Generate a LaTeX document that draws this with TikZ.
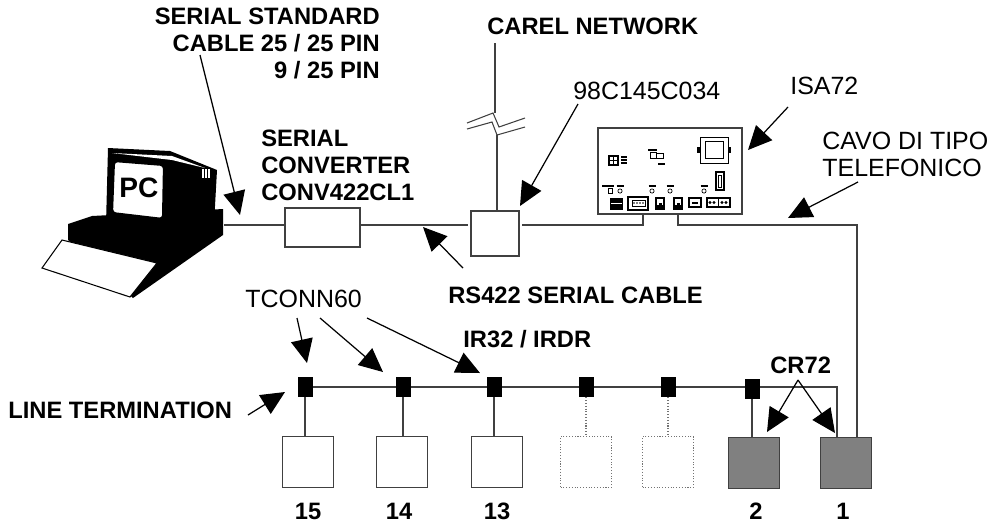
\documentclass[tikz,border=0pt]{standalone}
\usepackage{fontspec}
\setmainfont{Liberation Sans}
\usetikzlibrary{arrows.meta}
\tikzstyle{devbox}=[rectangle,draw=black!75,fill=white,line width=0.6pt,minimum width=1.02cm,minimum height=1.02cm,inner sep=0pt]
\tikzstyle{sparebox}=[devbox,draw=black!55,densely dotted]
\tikzstyle{crbox}=[devbox,fill=black!50]
\tikzstyle{tconn}=[rectangle,fill=black,minimum width=0.3cm,minimum height=0.4cm,inner sep=0pt]
\tikzstyle{wire}=[draw=black!75,line width=0.6pt]
\tikzstyle{spareline}=[draw=black!55,densely dotted,line width=0.6pt]
\tikzstyle{pointer}=[draw,line width=0.7pt,->]
\tikzstyle{txt}=[inner sep=0pt,font=\fontsize{14.2}{15.3}\selectfont]
\tikzstyle{btxt}=[inner sep=0pt,font=\bfseries\fontsize{13.5}{15.3}\selectfont]

\begin{document}
\begin{tikzpicture}[x=0.02cm,y=-0.02cm,>={Triangle[length=13.5pt,width=12.5pt]}]
\fill[white] (0,0) rectangle (996,529);
\useasboundingbox (0,0) rectangle (996,529);

% PC
\fill (68,224) -- (92,216) -- (223,209) -- (223,235) -- (133,298) -- (68,240) -- cycle;
\fill (108,148) -- (170,151) -- (217,170) -- (214,224) -- (172,235) -- (106,224) -- cycle;
\fill[white] (112,153) -- (172,156) -- (205,168) -- (172,160) -- cycle;
\filldraw[fill=white,line width=1.2pt,rounded corners=2pt] (114,161) -- (164,165) -- (163,219) -- (112,213) -- cycle;
\foreach \xx in {203,206,209}
  \draw[white,line width=0.6pt] (\xx,169) -- (\xx,178);
\filldraw[fill=white,line width=0.6pt] (62,240) -- (157,263) -- (130,297) -- (42,268) -- cycle;
\node[inner sep=0pt,font=\bfseries\fontsize{16}{16}\selectfont] (pc) at (139,188) {PC};
\coordinate (pcport) at (224,225);

% serial line
\node[rectangle,draw=black!75,line width=0.6pt,minimum width=1.5cm,minimum height=0.78cm] (conv) at (322.5,227.5) {};
\node[rectangle,draw=black!75,line width=0.6pt,minimum width=0.96cm,minimum height=0.9cm] (carel) at (495,233.5) {};
\node[rectangle,draw=black!75,line width=0.6pt,minimum width=2.88cm,minimum height=1.72cm] (isa) at (670,171) {};
\coordinate (dbport) at (643,214);
\coordinate (rjport) at (678,214);
\coordinate (phone) at (857,225);

\draw[wire] (pcport) -- (pcport -| conv.west);
\draw[wire,shorten >=1.5pt] (conv.east |- pcport) -- (carel.west |- pcport);
\draw[wire,shorten <=1.5pt] (carel.east |- pcport) -- (dbport |- pcport) -- (dbport);

% carel network, broken line
\coordinate (carelnet) at (495,43);
\coordinate (brkup) at (495,113);
\coordinate (brklo) at (497,135);
\draw[wire] (carelnet) -- (brkup);
\draw[wire] (brklo) -- (brklo |- carel.north);
\draw[wire] (467,123) -- (493,113) -- (499,127) -- (525,118);
\draw[wire] (467,129) -- (492,122) -- (497,135) -- (525,127);

% ISA72 board
\draw[line width=0.5pt] (700,137) rectangle (728,163);
\draw[line width=0.5pt] (705,141) rectangle (723,158);
\fill (697,147) rectangle (700,153);
\fill (728,147) rectangle (731,153);
\draw[line width=0.6pt] (716,172) rectangle (724,190);
\draw[line width=0.5pt] (718.5,175) rectangle (721.5,187);
\draw[line width=0.8pt] (609,156) rectangle (618,165);
\draw[line width=0.6pt] (613.5,156) -- (613.5,165) (609,160.5) -- (618,160.5);
\foreach \yy in {157,160,163}
  \draw[line width=0.9pt] (621,\yy) -- (627,\yy);
\draw[line width=0.9pt] (648,150) -- (657,150);
\draw[line width=0.5pt] (650,152) rectangle (656,158);
\draw[line width=0.5pt] (656,153) rectangle (663,158);
\draw[line width=1.2pt] (658,164) -- (665,164);
\draw[line width=1.2pt] (602,186) -- (614,186);
\draw[line width=0.5pt] (608,188) rectangle (612,193);
\fill (610,198) rectangle (623,210);
\draw[white,line width=0.5pt] (611,203) -- (622,203);
\foreach \xx in {620,652,670,704}{
  \draw[line width=1pt] (\xx-3.5,186) -- (\xx+3.5,186);
  \draw[line width=0.4pt] (\xx,191) circle (1.2pt);
}
\draw[line width=0.6pt] (628,197) rectangle (648,210);
\draw[line width=0.5pt] (632,200) rectangle (645,206);
\foreach \xx in {634,637,640,643}
  \fill (\xx,203) circle (0.5pt);
\foreach \xx in {655,673}{
  \fill (\xx,197) rectangle (\xx+10,210);
  \fill[white] (\xx+2,199) rectangle (\xx+8,205);
  \fill (\xx+3.5,203) rectangle (\xx+6.5,205);
}
\draw[line width=0.6pt] (689,198) rectangle (701,207);
\fill (692,201.5) rectangle (698,203.5);
\draw[line width=0.6pt] (707,198) rectangle (730,207);
\draw[line width=0.6pt] (718.5,198) -- (718.5,207);
\foreach \xx in {710,714,722,726}
  \fill (\xx,202.5) circle (0.9pt);

% bottom line devices
\foreach \pos/\name in {{(308,462)/b15},{(402,462)/b14},{(497,462)/b13}}
  \node[devbox] (\name) at \pos {};
\foreach \pos/\name in {{(586,462)/spare1},{(668,462)/spare2}}
  \node[sparebox] (\name) at \pos {};
\foreach \pos/\name in {{(754,463)/b2},{(846,463)/b1}}
  \node[crbox] (\name) at \pos {};

\coordinate (busend) at (837,387);
\draw[wire] (305,387) -- (busend) -- (busend |- b1.north);
\draw[wire] (rjport) -- (rjport |- phone) -- (phone) -- (phone |- b1.north);

\foreach \pos/\name in {{(305,387)/t15},{(403,387)/t14},{(494,387)/t13},{(586,387)/t4},{(668,387)/t3},{(752,389)/t2}}
  \node[tconn] (\name) at \pos {};

\foreach \a/\b in {t15/b15,t14/b14,t13/b13,t2/b2}
  \draw[wire] (\a.south) -- (\a.south |- \b.north);
\foreach \a/\b in {t4/spare1,t3/spare2}
  \draw[spareline] (\a.south) -- (\a.south |- \b.north);

% Labels
\node[btxt,anchor=north east,align=right] (serstd) at (380,8) {SERIAL STANDARD\\CABLE 25 / 25 PIN\\9 / 25 PIN};
\node[btxt,anchor=north west] (carelname) at (487,18) {CAREL NETWORK};
\node[btxt,anchor=north west,align=left] (convname) at (261,130) {SERIAL\\CONVERTER\\CONV422CL1};
\node[txt,anchor=north west] (carelcode) at (573,82) {98C145C034};
\node[txt,anchor=north west] (isaname) at (790,77) {ISA72};
\node[txt,anchor=north west,align=left] (cavo) at (822,132) {CAVO DI TIPO\\TELEFONICO};
\node[btxt,anchor=north west] (rsname) at (448,287) {RS422 SERIAL CABLE};
\node[btxt,anchor=north west] (irname) at (463,330) {IR32 / IRDR};
\node[txt,anchor=north west] (tconnname) at (245,290) {TCONN60};
\node[btxt,anchor=north west] (linetrm) at (8,402) {LINE TERMINATION};
\node[btxt,anchor=north west] (crname) at (770,357) {CR72};
\foreach \xx/\num in {308/15,399/14,497/13,756/2,843/1}
  \node[btxt,anchor=north] (no\num) at (\xx,503) {\num};

% Arrows
\coordinate (stdtail) at (200,55);   \coordinate (stdtip) at (240,215);
\coordinate (codetail) at (578,104); \coordinate (codetip) at (520,206);
\coordinate (isatail) at (788,107);  \coordinate (isatip) at (748,150);
\coordinate (cavotail) at (858,182); \coordinate (cavotip) at (788,218);
\coordinate (rstail) at (463,268);   \coordinate (rstip) at (423,227);
\coordinate (tcatail) at (297,318);  \coordinate (tcatip) at (307,363);
\coordinate (tcbtail) at (320,318);  \coordinate (tcbtip) at (383,372);
\coordinate (tcctail) at (367,318);  \coordinate (tcctip) at (480,373);
\coordinate (lttail) at (248,415);   \coordinate (lttip) at (285,392);
\coordinate (crtail) at (798,380);
\coordinate (crtipa) at (767,432);   \coordinate (crtipb) at (835,433);

\draw[pointer] (stdtail) -- (stdtip);
\draw[pointer] (codetail) -- (codetip);
\draw[pointer] (isatail) -- (isatip);
\draw[pointer] (cavotail) -- (cavotip);
\draw[pointer] (rstail) -- (rstip);
\draw[pointer] (tcatail) -- (tcatip);
\draw[pointer] (tcbtail) -- (tcbtip);
\draw[pointer] (tcctail) -- (tcctip);
\draw[pointer] (lttail) -- (lttip);
\draw[pointer] (crtail) -- (crtipa);
\draw[pointer] (crtail) -- (crtipb);

\end{tikzpicture}
\end{document}
